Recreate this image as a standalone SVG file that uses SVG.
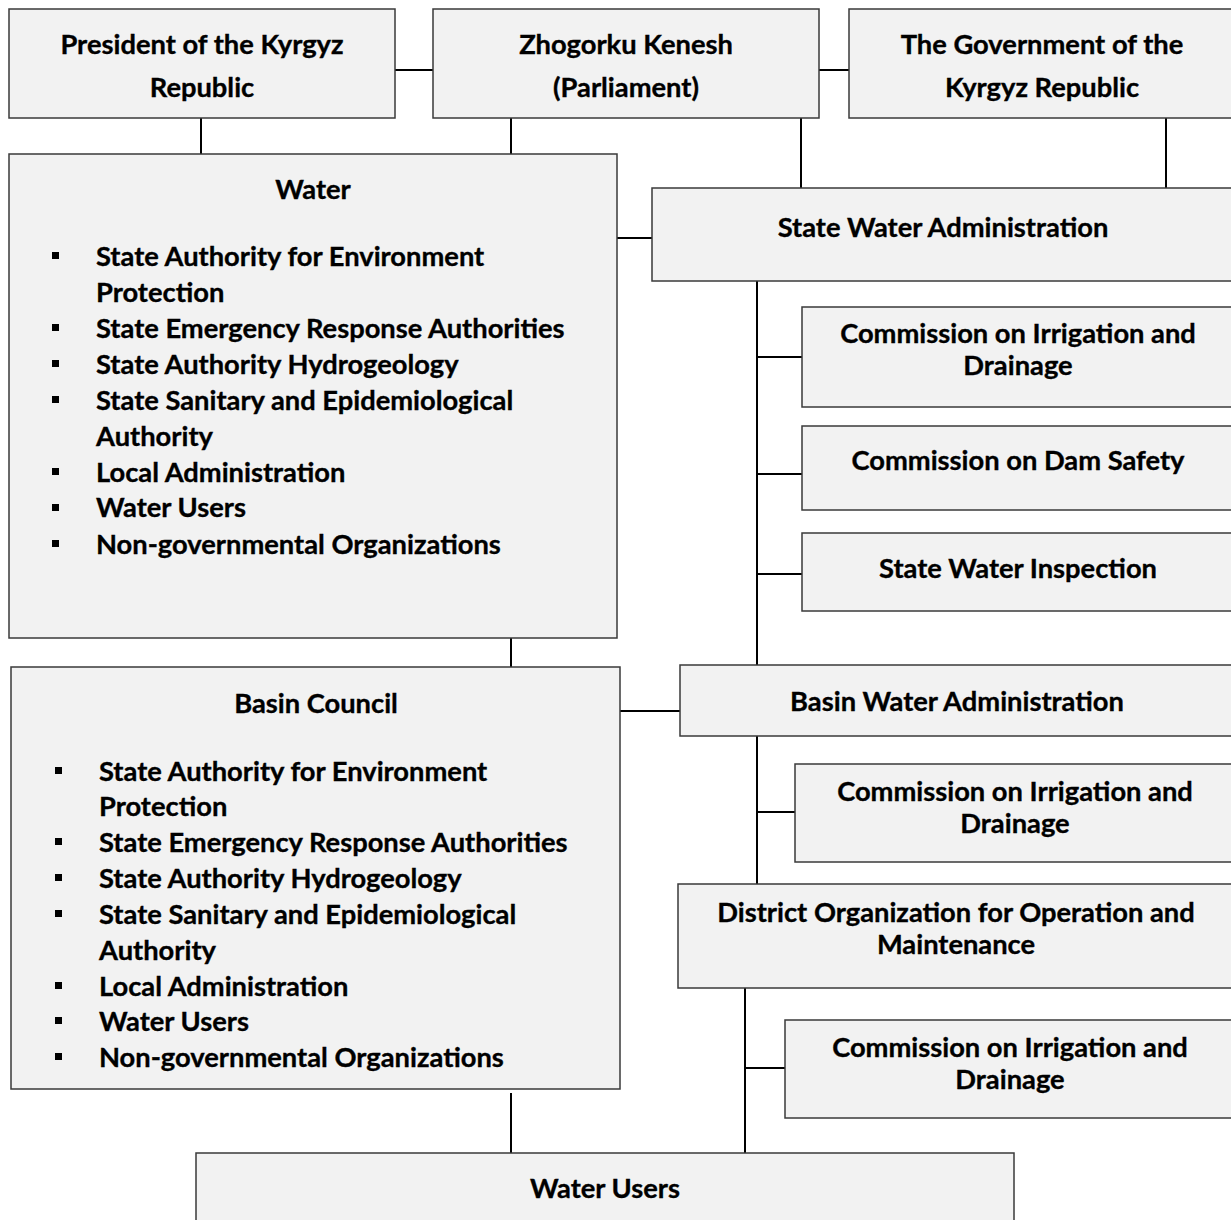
<svg xmlns="http://www.w3.org/2000/svg" width="1231" height="1220" viewBox="0 0 1231 1220">
<style>
.box{fill:#f2f2f2;stroke:#3a3a3a;stroke-width:1.5}
.t{font-family:Lato,"Open Sans",sans-serif;font-weight:bold;font-size:27.3px;fill:#000;stroke:#000;stroke-width:0.35}
.c{text-anchor:middle}
.ln{stroke:#000;stroke-width:2;fill:none}
.b{fill:#000}
</style>
<rect width="1231" height="1220" fill="#fff"/>
<g id="connectors">
<path class="ln" d="M395 70H433M819 70H849M201 118V154M511 118V154M801 118V188M1166 118V190M617 238H652M757 281V665M757 357H802M757 474H802M757 574H802M511 638V667M620 711H680M757 736V884M757 812H795M745 988V1153M745 1068H785M511 1093V1153"/>
</g>
<g id="president">
<rect class="box" x="9" y="9" width="386" height="109"/>
<text class="t c" x="202" y="54">President of the Kyrgyz</text>
<text class="t c" x="202" y="97">Republic</text>
</g>
<g id="parliament">
<rect class="box" x="433" y="9" width="386" height="109"/>
<text class="t c" x="626" y="54">Zhogorku Kenesh</text>
<text class="t c" x="626" y="97">(Parliament)</text>
</g>
<g id="government">
<rect class="box" x="849" y="9" width="390" height="109"/>
<text class="t c" x="1042" y="54">The Government of the</text>
<text class="t c" x="1042" y="97">Kyrgyz Republic</text>
</g>
<g id="water">
<rect class="box" x="9" y="154" width="608" height="484"/>
<text class="t c" x="313" y="199">Water</text>
<rect class="b" x="52" y="252" width="7" height="7"/>
<rect class="b" x="52" y="324" width="7" height="7"/>
<rect class="b" x="52" y="360" width="7" height="7"/>
<rect class="b" x="52" y="396" width="7" height="7"/>
<rect class="b" x="52" y="468" width="7" height="7"/>
<rect class="b" x="52" y="504" width="7" height="7"/>
<rect class="b" x="52" y="540" width="7" height="7"/>
<text class="t" x="96" y="266">State Authority for Environment</text>
<text class="t" x="96" y="302">Protection</text>
<text class="t" x="96" y="338">State Emergency Response Authorities</text>
<text class="t" x="96" y="374">State Authority Hydrogeology</text>
<text class="t" x="96" y="410">State Sanitary and Epidemiological</text>
<text class="t" x="96" y="446">Authority</text>
<text class="t" x="96" y="482">Local Administration</text>
<text class="t" x="96" y="517">Water Users</text>
<text class="t" x="96" y="554">Non-governmental Organizations</text>
</g>
<g id="swa">
<rect class="box" x="652" y="188" width="590" height="93"/>
<text class="t c" x="943" y="237">State Water Administration</text>
</g>
<g id="cid1">
<rect class="box" x="802" y="307" width="440" height="100"/>
<text class="t c" x="1018" y="343">Commission on Irrigation and</text>
<text class="t c" x="1018" y="375">Drainage</text>
</g>
<g id="dam">
<rect class="box" x="802" y="426" width="440" height="84"/>
<text class="t c" x="1018" y="470">Commission on Dam Safety</text>
</g>
<g id="swi">
<rect class="box" x="802" y="533" width="440" height="78"/>
<text class="t c" x="1018" y="578">State Water Inspection</text>
</g>
<g id="basin-council">
<rect class="box" x="11" y="667" width="609" height="422"/>
<text class="t c" x="316" y="713">Basin Council</text>
<rect class="b" x="55" y="767" width="7" height="7"/>
<rect class="b" x="55" y="838" width="7" height="7"/>
<rect class="b" x="55" y="874" width="7" height="7"/>
<rect class="b" x="55" y="910" width="7" height="7"/>
<rect class="b" x="55" y="982" width="7" height="7"/>
<rect class="b" x="55" y="1017" width="7" height="7"/>
<rect class="b" x="55" y="1053" width="7" height="7"/>
<text class="t" x="99" y="781">State Authority for Environment</text>
<text class="t" x="99" y="816">Protection</text>
<text class="t" x="99" y="852">State Emergency Response Authorities</text>
<text class="t" x="99" y="888">State Authority Hydrogeology</text>
<text class="t" x="99" y="924">State Sanitary and Epidemiological</text>
<text class="t" x="99" y="960">Authority</text>
<text class="t" x="99" y="996">Local Administration</text>
<text class="t" x="99" y="1031">Water Users</text>
<text class="t" x="99" y="1067">Non-governmental Organizations</text>
</g>
<g id="bwa">
<rect class="box" x="680" y="665" width="562" height="71"/>
<text class="t c" x="957" y="711">Basin Water Administration</text>
</g>
<g id="cid2">
<rect class="box" x="795" y="764" width="447" height="98"/>
<text class="t c" x="1015" y="801">Commission on Irrigation and</text>
<text class="t c" x="1015" y="833">Drainage</text>
</g>
<g id="district">
<rect class="box" x="678" y="884" width="564" height="104"/>
<text class="t c" x="956" y="922">District Organization for Operation and</text>
<text class="t c" x="956" y="954">Maintenance</text>
</g>
<g id="cid3">
<rect class="box" x="785" y="1020" width="457" height="98"/>
<text class="t c" x="1010" y="1057">Commission on Irrigation and</text>
<text class="t c" x="1010" y="1089">Drainage</text>
</g>
<g id="water-users">
<rect class="box" x="196" y="1153" width="818" height="80"/>
<text class="t c" x="605" y="1198">Water Users</text>
</g>
</svg>
